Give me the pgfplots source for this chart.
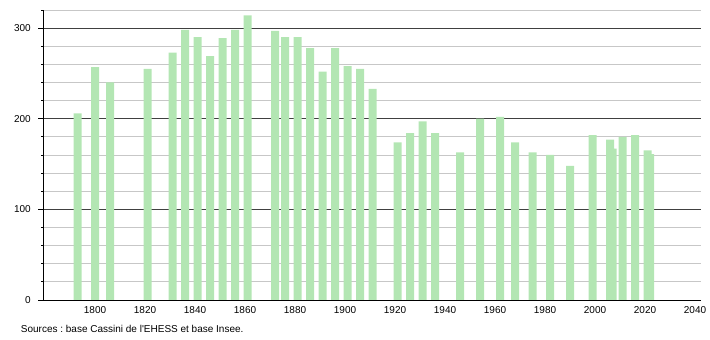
\documentclass[border=0pt]{standalone}
\usepackage{fontspec}
\setmainfont{Liberation Sans}
\usepackage{pgfplots}
\pgfplotsset{compat=1.18}
\definecolor{bargreen}{RGB}{179,230,179}
\pgfplotstableread{
year pop
1793 206
1800 257
1806 240
1821 255
1831 273
1836 298
1841 290
1846 269
1851 289
1856 298
1861 314
1872 297
1876 290
1881 290
1886 278
1891 252
1896 278
1901 258
1906 255
1911 233
1921 174
1926 184
1931 197
1936 184
1946 163
1954 200
1962 202
1968 174
1975 163
1982 160
1990 148
1999 182
2006 177
2007 167
2011 180
2016 182
2021 165
2022 161
}\popdata
\begin{document}
\frenchspacing
\begin{tikzpicture}[x=1pt,y=1pt]
\path[use as bounding box] (0,0) rectangle (710,340);
\begin{axis}[
  at={(43.3pt,40pt)}, anchor=south west,
  scale only axis, width=657.7pt, height=290pt,
  xmin=1779.3, xmax=2042.4, ymin=0, ymax=320,
  axis x line*=bottom, axis y line*=left,
  axis line style={black, line width=0.9pt, -},
  xtick={1800,1820,...,2040},
  xtick style={draw=none},
  ytick={0,100,200,300},
  minor ytick={20,40,60,80,120,140,160,180,220,240,260,280,320},
  tick align=outside,
  major tick length=5pt, minor tick length=2pt,
  ytick style={black, line width=0.8pt},
  minor tick style={black, line width=0.8pt},
  ymajorgrids, yminorgrids,
  major grid style={black!75, line width=0.9pt},
  minor grid style={black!22, line width=0.8pt},
  tick label style={font=\fontsize{10}{12}\selectfont},
  xticklabel style={yshift=2pt},
  yticklabel style={xshift=-4pt},
  /pgf/number format/assume math mode=true,
  /pgf/number format/1000 sep={},
  ybar, bar width=3.2,
]
\addplot[fill=bargreen, draw=none] table[x=year, y=pop] {\popdata};
\end{axis}
\node[anchor=west, font=\fontsize{10}{12}\selectfont, inner sep=0pt] at (20.7,10.7) {Sources : base Cassini de l\textquotesingle EHESS et base Insee.};
\end{tikzpicture}
\end{document}
